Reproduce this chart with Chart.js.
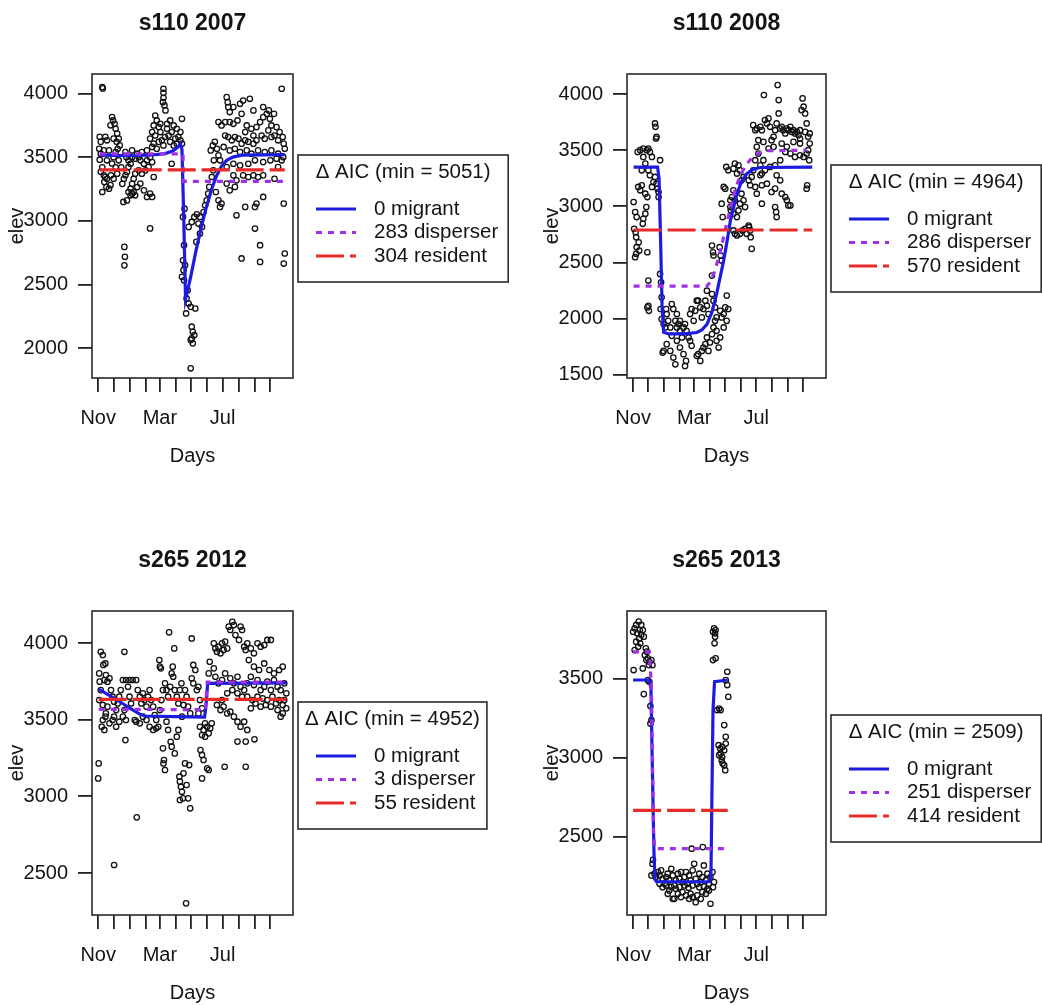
<!DOCTYPE html>
<html>
<head>
<meta charset="utf-8">
<script src="https://cdn.jsdelivr.net/npm/chart.js@4.4.0/dist/chart.umd.min.js"></script>
<style>
  body { margin: 0; background: #fff; }
  #fig { position: relative; width: 1042px; height: 1005px; overflow: hidden; background: #fff; }
  #fig canvas { position: absolute; }
</style>
</head>
<body>
<div id="fig">
  <canvas id="p1" width="535" height="537" style="left:0;top:0"></canvas>
  <canvas id="p2" width="507" height="537" style="left:535px;top:0"></canvas>
  <canvas id="p3" width="535" height="468" style="left:0;top:537px"></canvas>
  <canvas id="p4" width="507" height="468" style="left:535px;top:537px"></canvas>
</div>
<script>
// x values are days since 1 Nov; ticks sit on the first of each month
const monthDays = [0, 30, 61, 92, 120, 151, 181, 212, 242, 273, 304, 334]
const monthLabels = ["Nov", "", "", "", "Mar", "", "", "", "Jul", "", "", ""]
const modelNames = ["migrant", "disperser", "resident"]

// ---- s110 2007 ----
const s110_2007_ticks = [2000, 2500, 3000, 3500, 4000]
const s110_2007_aic = [0, 283, 304]
const s110_2007_min = 5051
const s110_2007_obs = [
  [8,4050],[9,4040],
  [3,3660],[5,3620],[2,3565],[5,3527],[3,3480],[8,3420],[5,3385],[11,3357],[14,3345],[17,3330],[12,3305],[16,3265],[8,3226],[21,3252],[24,3280],[27,3815],[29,3788],[32,3762],[24,3750],[34,3723],[37,3685],[30,3645],[36,3620],[40,3645],[38,3565],[42,3592],[34,3540],[30,3500],[27,3450],[34,3420],[37,3370],[40,3475],[45,3420],[30,3330],[25,3357],[17,3475],[21,3553],[11,3553],[17,3632],[14,3660],
  [51,2795],[52,2717],[51,2650],
  [47,3290],[50,3330],[53,3357],[56,3383],[59,3422],[63,3448],[59,3475],[55,3500],[66,3500],[72,3488],[79,3500],[82,3475],[89,3448],[95,3475],[101,3500],[105,3461],[98,3422],[92,3396],[85,3370],[79,3396],[72,3370],[69,3330],[66,3290],[63,3252],[66,3213],[69,3226],[72,3200],[63,3200],[59,3226],[76,3265],[82,3292],[89,3239],[95,3187],[101,3213],[105,3187],[56,3160],[49,3148],[101,2940],[108,3344],
  [53,3540],[66,3553],[76,3527],[85,3540],[95,3553],
  [127,4037],[127,4005],[127,3966],[126,3932],[129,3906],[131,3867],
  [111,3827],[114,3788],[108,3749],[118,3736],[105,3697],[111,3670],[121,3697],[134,3762],[140,3788],[147,3749],[153,3723],[160,3697],[163,3801],[143,3697],[137,3670],[130,3658],[124,3632],[118,3620],[108,3606],[101,3645],[105,3580],[114,3566],[127,3592],[140,3620],[150,3645],[156,3658],[147,3592],[153,3606],[134,3723],[121,3762],[143,3448],[163,3606],[160,3632],
  [165,3030],[168,3095],[167,2808],[165,2690],[169,2651],[166,2612],[163,2560],[167,2533],[174,2455],[172,2390],[176,2350],[180,2324],[189,2311],[171,2272],[182,2168],[184,2128],[187,2102],[180,2063],[184,2037],[182,2076],[180,1841],
  [176,2952],[182,2991],[187,3030],[192,3051],[198,3030],[195,2978],[202,2952],[198,2900],[191,2834],[205,3069],[208,3122],[211,3161],[214,3213],[216,3266],[221,3344],[224,3396],[225,3475],[219,3553],[223,3592],[227,3620],[231,3566],[234,3514],[237,3475],[229,3226],[234,3161],[240,3135],[237,3109],
  [250,3971],[252,3932],[253,3893],[256,3854],[247,3775],[234,3775],[240,3749],[256,3775],[263,3762],[271,3788],[276,3919],[279,3840],[295,3958],[289,3749],[286,3697],[298,3723],[302,3670],[308,3736],[315,3775],[321,3814],[328,3840],[334,3801],[337,3749],[342,3840],[347,3736],[353,3697],[357,4037],[359,3658],[361,3606],[363,3566],[350,3632],[343,3670],[337,3658],[331,3710],[324,3645],[318,3670],[308,3632],[302,3606],[292,3620],[286,3632],[279,3606],[273,3645],[266,3658],[260,3632],[253,3658],[247,3670],[244,3580],[256,3553],[266,3566],[276,3540],[289,3553],[298,3527],[311,3553],[324,3540],[337,3553],[350,3527],[360,3500],[357,3475],[347,3488],[335,3475],[321,3461],[305,3475],[292,3448],[276,3435],[263,3448],[250,3422],[263,3357],[269,3318],[266,3266],[282,3357],[292,3344],[302,3357],[311,3344],[321,3357],[343,3330],[350,3422],[250,3292],[256,3239],[269,3043],[279,2704],[286,3109],[308,3135],[305,3109],[321,3187],[305,2939],[315,2808],[315,2677],[361,3135],[363,2743],[361,2664],[302,3867],[321,3893],[332,3867],[263,3893],[282,3945]
]
const s110_2007_migrant = [[3,3515],[60,3512],[100,3515],[130,3528],[145,3548],[155,3578],[160,3605],[163,3560],[166,3100],[170,2385],[175,2470],[180,2560],[190,2760],[200,2940],[210,3100],[220,3240],[230,3350],[240,3430],[250,3475],[262,3500],[280,3515],[363,3520]]
const s110_2007_disperser = [[3,3525],[165,3525],[166,3310],[363,3310]]
const s110_2007_resident = [[3,3400],[363,3400]]

// ---- s110 2008 ----
const s110_2008_ticks = [1500, 2000, 2500, 3000, 3500, 4000]
const s110_2008_aic = [0, 286, 570]
const s110_2008_min = 4964
const s110_2008_obs = [
  [1,3039],[4,2950],[7,2905],[2,2800],[5,2770],[6,2726],[7,2637],[6,2578],[4,2548],[11,2681],[12,2607],[19,2845],[20,2890],[24,2935],[26,2994],[28,2592],[30,2340],[28,2101],[31,2071],[30,2116],[9,3485],[14,3500],[20,3515],[27,3500],[30,3515],[33,3485],[37,3440],[43,3738],[44,3708],[46,3619],[45,3604],[10,3173],[14,3143],[17,3188],[20,3440],[24,3381],[17,3321],[30,3321],[33,3277],[37,3173],[40,3217],[43,3262],[46,3202],[48,3158],[50,3128],[50,3083],[53,3411],[24,3113],[28,3083],
  [53,2399],[55,2324],[56,2191],[54,2087],
  [56,1997],[60,1953],[63,1923],[66,2042],[65,2087],[69,1982],[73,1923],[76,2131],[79,2087],[83,1982],[86,1923],[89,1953],[92,1893],[96,1834],[99,1923],[102,1953],[105,1893],[109,1834],[112,2042],[115,2087],[119,1982],[122,2071],[125,2161],[128,2161],[132,2101],[135,2012],[138,2087],[142,2161],[145,2116],[148,2042],[60,1714],[58,1699],[66,1774],[73,1714],[79,1655],[83,1595],[102,1580],[104,1625],[99,1685],[92,1744],[86,1804],[76,1848],[112,1804],[115,1759],[125,1670],[128,1685],[132,1625],[135,1714],[138,1744],[142,1774],[145,1834],[148,1714],[151,1789],[155,1863],[158,1923],[164,1893],[168,1744],[161,1982],[171,2071],[174,2012],[178,2042],[181,2101],[184,2206],[187,2087],[184,1982],[178,1923],[171,1834],[164,1804],[155,2220],[158,2161],[161,2101],[164,2012],[92,1982],[86,2042],[145,2250],
  [155,2384],[155,2652],[157,2592],[158,2563],[170,2637],[172,2563],[174,2518],[176,2905],[174,3024],[178,3173],[181,3158],[183,3351],[187,3321],[191,2994],[194,3083],[197,3143],[200,3054],[192,2964],[197,2935],[204,2905],[207,2964],[210,3024],[213,3113],[217,3054],[220,2994],[213,3232],[217,3262],[204,3292],[200,3381],[207,3366],[210,3321],[197,3336],
  [197,2786],[200,2756],[204,2741],[210,2756],[215,2786],[220,2800],[223,2756],[227,2830],[230,2786],[231,2726],[233,2622],[228,2815],[191,3054],
  [227,3232],[230,3188],[233,3262],[236,3321],[240,3411],[243,3530],[246,3470],[250,3366],[253,3292],[256,3411],[236,3723],[240,3678],[243,3693],[250,3708],[253,3678],[257,3991],[259,3768],[263,3738],[266,3783],[269,3708],[272,3589],[276,3619],[279,3678],[282,3738],[284,4080],[286,3946],[286,3827],[289,3693],[292,3708],[295,3678],[299,3649],[302,3693],[305,3678],[309,3708],[312,3663],[315,3678],[318,3649],[322,3663],[325,3634],[328,3678],[331,3857],[333,3961],[335,3887],[338,3827],[341,3738],[344,3619],[347,3559],[344,3500],[341,3470],[335,3440],[328,3455],[318,3440],[309,3470],[299,3485],[289,3411],[279,3366],[269,3351],[259,3321],[250,3277],[240,3173],[243,3113],[253,3188],[263,3202],[272,3128],[279,3158],[282,3277],[289,3232],[292,3113],[299,3083],[302,3054],[305,3009],[309,3009],[279,2994],[281,2950],[282,2905],[253,3024],[341,3158],[342,3188],[346,3411],[328,3559],[315,3574],[302,3530],[292,3559],[276,3530],[266,3515],[256,3574],[246,3589],[328,3604],[338,3663],[347,3649]
]
const s110_2008_migrant = [[1,3350],[48,3350],[51,3250],[54,2700],[57,2100],[60,1880],[70,1865],[100,1866],[125,1878],[135,1900],[145,1950],[155,2060],[164,2220],[171,2370],[178,2520],[185,2700],[191,2870],[198,3000],[204,3110],[212,3210],[223,3290],[236,3330],[250,3346],[352,3350]]
const s110_2008_disperser = [[1,2290],[145,2290],[152,2330],[160,2420],[168,2540],[176,2690],[184,2850],[192,3000],[200,3140],[210,3270],[222,3370],[235,3440],[250,3480],[265,3495],[340,3500]]
const s110_2008_resident = [[1,2790],[352,2790]]

// ---- s265 2012 ----
const s265_2012_ticks = [2500, 3000, 3500, 4000]
const s265_2012_aic = [0, 3, 55]
const s265_2012_min = 4952
const s265_2012_obs = [
  [1,3215],[0,3117],[31,2552],[2,3802],[5,3943],[9,3922],[10,3857],[14,3867],[3,3748],[5,3693],[2,3628],[9,3596],[12,3759],[15,3791],[18,3748],[22,3770],[25,3693],[28,3650],[31,3617],[18,3585],[15,3541],[14,3520],[9,3498],[7,3454],[12,3433],[22,3476],[28,3498],[31,3520],[35,3563],[38,3606],[41,3650],[44,3693],[48,3759],[51,3943],[54,3759],[58,3715],[61,3650],[64,3606],[61,3759],[67,3759],[74,3759],[53,3367],[51,3563],[54,3498],[48,3520],[41,3487],[35,3454],[71,3498],[75,2863],
  [77,3693],[81,3650],[84,3606],[87,3672],[90,3628],[94,3585],[97,3650],[100,3693],[103,3628],[107,3585],[110,3530],[113,3498],[117,3454],[120,3563],[123,3628],[126,3693],[130,3737],[133,3693],[136,3650],[140,3715],[143,3802],[146,3780],[145,3846],[148,3965],[149,3693],[153,3650],[156,3606],[159,3693],[162,3737],[166,3596],[169,3693],[172,3650],[138,4070],[120,3846],[122,3835],[119,3889],[94,3498],[100,3454],[107,3433],[113,3444],[87,3520],[81,3476],[74,3487],[126,3313],[128,3237],[127,3215],[130,3172],[133,3487],[136,3433],[141,3356],[143,3324],[149,3280],[153,3389],[156,3433],[158,3128],[159,3096],[161,3063],[163,3030],[159,2976],[165,2987],[166,3150],[169,3215],[172,3074],[177,3204],[179,2922],[175,2987],[171,2302],[163,3520],
  [182,4030],[185,3857],[189,3824],[182,3770],[185,3737],[192,3693],[195,3715],[198,3628],[202,3574],[195,3541],[198,3454],[202,3400],[205,3433],[208,3476],[199,3302],[202,3270],[205,3237],[212,3183],[215,3172],[202,3117],[208,3389],[212,3454],[215,3411],[218,3444],[221,3476],[215,3802],[217,3878],[225,3835],[179,3541],[175,3585],
  [225,3998],[228,3965],[231,3943],[234,3976],[238,3933],[241,3998],[244,3955],[247,4009],[251,3965],[254,4107],[257,4085],[261,4139],[264,4117],[267,4052],[274,4020],[277,4107],[280,4085],[284,3976],[287,3955],[290,3998],[297,3965],[303,3933],[310,3998],[316,3976],[323,3987],[329,4020],[336,4020],[293,3889],[303,3846],[313,3824],[323,3867],[333,3824],[342,3802],[352,3824],[359,3846],
  [228,3780],[234,3737],[241,3759],[247,3802],[257,3770],[264,3737],[271,3780],[277,3715],[284,3693],[290,3737],[297,3780],[303,3726],[310,3759],[316,3693],[323,3715],[329,3748],[336,3693],[342,3759],[349,3715],[355,3693],[362,3737],[366,3672],[362,3628],[359,3596],[352,3628],[346,3606],[339,3650],[329,3628],[320,3639],[310,3650],[300,3628],[290,3650],[280,3650],[271,3672],[261,3693],[251,3672],[241,3628],[231,3596],[238,3563],[244,3585],[251,3541],[257,3552],[264,3520],[271,3487],[277,3454],[284,3487],[290,3433],[287,3357],[271,3357],[304,3372],[246,3193],[287,3193],[349,3563],[359,3541],[366,3574],[355,3520],[336,3585],[326,3596],[316,3585],[306,3606],[297,3574]
]
const s265_2012_migrant = [[1,3700],[20,3662],[40,3622],[60,3578],[80,3538],[90,3524],[150,3520],[207,3517],[210,3600],[213,3737],[366,3740]]
const s265_2012_disperser = [[1,3568],[209,3565],[212,3745],[366,3745]]
const s265_2012_resident = [[1,3633],[366,3633]]

// ---- s265 2013 ----
const s265_2013_ticks = [2500, 3000, 3500]
const s265_2013_aic = [0, 251, 414]
const s265_2013_min = 2509
const s265_2013_obs = [
  [11,3859],[6,3838],[16,3838],[3,3817],[13,3806],[19,3806],[0,3795],[8,3785],[16,3774],[21,3764],[12,3753],[6,3732],[14,3722],[10,3700],[3,3679],[25,3690],[27,3669],[23,3648],[29,3627],[32,3605],[36,3616],[31,3584],[38,3584],[26,3616],[1,3553],[19,3563],[21,3401],[34,3325],[36,3236],[34,3215],[29,3489],[32,3479],
  [39,2354],[38,2329],[36,2255],[42,2266],[45,2245],[49,2276],[52,2255],[55,2287],[58,2234],[62,2202],[65,2245],[68,2266],[71,2224],[75,2297],[78,2255],[81,2192],[84,2224],[88,2266],[91,2234],[94,2276],[97,2213],[101,2245],[104,2276],[107,2202],[110,2255],[113,2224],[117,2287],[120,2329],[123,2234],[126,2202],[130,2266],[133,2213],[136,2245],[139,2318],[143,2224],[146,2266],[149,2202],[152,2245],[156,2276],[159,2213],[157,2181],
  [68,2139],[71,2160],[78,2107],[81,2107],[88,2139],[94,2118],[97,2150],[104,2129],[110,2107],[113,2139],[117,2118],[123,2086],[126,2129],[133,2107],[136,2150],[143,2139],[146,2171],[152,2076],[52,2202],[58,2181],[65,2192],[75,2181],[84,2171],[91,2181],[101,2192],[109,2177],[117,2192],[130,2181],[139,2185],[149,2160],[115,2424],[137,2434],
  [159,3817],[162,3806],[161,3785],[157,3795],[160,3722],[161,3764],[162,3627],[157,3616],[185,3542],[182,3489],[185,3458],[187,3384],[169,3310],[172,3300],[165,3300],[179,3205],[182,3131],[168,3078],[171,3057],[175,3067],[179,3046],[172,3025],[175,3004],[169,3015],[174,2983],[179,2951],[181,2920],[176,2962],[182,3088]
]
const s265_2013_migrant = [[0,3490],[32,3490],[35,3440],[38,2900],[41,2400],[43,2230],[46,2215],[150,2215],[153,2260],[155,2800],[157,3300],[160,3480],[186,3490]]
const s265_2013_disperser = [[0,3668],[32,3668],[36,3450],[40,2520],[43,2425],[186,2425]]
const s265_2013_resident = [[0,2666],[186,2666]]

const FONT = "'Liberation Sans', Arial, Helvetica, sans-serif"
const INK = "#141414"
const lineStyles = {
  migrant: { color: "#1c1ce0", dash: [] },
  disperser: { color: "#a030e8", dash: [6, 6] },
  resident: { color: "#e62b2b", dash: [28, 6] },
}

// plot frame and panel heading
const panelFrame = {
  id: "panelFrame",
  afterDatasetsDraw(chart, args, opts) {
    const { ctx, chartArea: a } = chart
    ctx.save()
    ctx.strokeStyle = "#2a2a2a"
    ctx.lineWidth = 1.6
    ctx.strokeRect(a.left, a.top, a.right - a.left, a.bottom - a.top)
    ctx.fillStyle = INK
    ctx.font = "bold 23px " + FONT
    ctx.textAlign = "center"
    ctx.textBaseline = "middle"
    ctx.fillText(opts.title, (a.left + a.right) / 2, a.top - 50)
    ctx.restore()
  },
}

// delta-AIC legend box to the right of the plot
const aicLegend = {
  id: "aicLegend",
  afterDraw(chart, args, opts) {
    const { ctx, chartArea: a } = chart
    const x0 = a.right + 5
    const y0 = opts.top
    ctx.save()
    ctx.font = "20.5px " + FONT
    const title = "\u0394 AIC (min = " + opts.minAIC + ")"
    const labels = opts.aic.map((v, i) => v + " " + modelNames[i])
    const textW = Math.max(...labels.map((l) => ctx.measureText(l).width))
    const w = Math.max(ctx.measureText(title).width + 14, 76 + textW + 10)
    const h = 127
    ctx.fillStyle = "#fff"
    ctx.fillRect(x0, y0, w, h)
    ctx.strokeStyle = "#2a2a2a"
    ctx.lineWidth = 1.6
    ctx.strokeRect(x0, y0, w, h)
    ctx.fillStyle = INK
    ctx.textBaseline = "middle"
    ctx.textAlign = "center"
    ctx.fillText(title, x0 + w / 2, y0 + 17)
    ctx.textAlign = "left"
    labels.forEach((l, i) => {
      const st = lineStyles[modelNames[i]]
      const yy = y0 + 54 + i * 23.5
      ctx.strokeStyle = st.color
      ctx.lineWidth = 3
      ctx.setLineDash(st.dash)
      ctx.beginPath()
      ctx.moveTo(x0 + 18, yy)
      ctx.lineTo(x0 + 58, yy)
      ctx.stroke()
      ctx.setLineDash([])
      ctx.fillText(l, x0 + 76, yy)
    })
    ctx.restore()
  },
}

function modelSet(name, data) {
  return {
    label: name,
    data: data,
    showLine: true,
    borderColor: lineStyles[name].color,
    borderDash: lineStyles[name].dash,
    borderWidth: 3.2,
    pointRadius: 0,
    tension: 0,
    fill: false,
  }
}

function makePanel(id, p) {
  const canvas = document.getElementById(id)
  const tickFont = { family: FONT, size: 20 }
  return new Chart(canvas, {
    type: "scatter",
    data: {
      datasets: [
        modelSet("resident", p.resident),
        modelSet("disperser", p.disperser),
        modelSet("migrant", p.migrant),
        {
          label: "obs",
          data: p.obs,
          showLine: false,
          pointRadius: 2.7,
          pointBorderWidth: 1.3,
          pointBorderColor: "#111",
          pointBackgroundColor: "rgba(0,0,0,0)",
        },
      ],
    },
    options: {
      responsive: false,
      animation: false,
      events: [],
      layout: { padding: { left: 0, top: 74, right: p.padRight, bottom: canvas.height - 378 - 90 } },
      scales: {
        x: {
          type: "linear",
          min: -12,
          max: 379,
          afterBuildTicks: (s) => { s.ticks = monthDays.map((v) => ({ value: v })) },
          afterFit: (s) => { s.height = 90 },
          ticks: {
            autoSkip: false,
            maxRotation: 0,
            padding: 14,
            color: INK,
            font: tickFont,
            callback: (v, i) => monthLabels[i],
          },
          grid: { drawOnChartArea: false, drawTicks: true, tickLength: 14, color: "#222", lineWidth: 1.8 },
          border: { display: false },
          title: { display: true, text: "Days", color: INK, font: tickFont, padding: { top: 0, bottom: 0 } },
        },
        y: {
          type: "linear",
          min: p.ymin,
          max: p.ymax,
          afterBuildTicks: (s) => { s.ticks = p.ticks.map((v) => ({ value: v })) },
          afterFit: (s) => { s.width = 92 },
          ticks: {
            padding: 10,
            color: INK,
            font: tickFont,
            callback: (v) => String(v),
          },
          grid: { drawOnChartArea: false, drawTicks: true, tickLength: 14, color: "#222", lineWidth: 1.8 },
          border: { display: false },
          title: { display: true, text: "elev", color: INK, font: tickFont, padding: { top: 5, bottom: 0 } },
        },
      },
      plugins: {
        legend: { display: false },
        tooltip: { enabled: false },
        panelFrame: { title: p.title },
        aicLegend: { top: p.legendTop, minAIC: p.minAIC, aic: p.aic },
      },
    },
    plugins: [panelFrame, aicLegend],
  })
}

makePanel("p1", {
  title: "s110 2007", obs: s110_2007_obs, migrant: s110_2007_migrant, disperser: s110_2007_disperser, resident: s110_2007_resident,
  ticks: s110_2007_ticks, ymin: 1765, ymax: 4153, aic: s110_2007_aic, minAIC: s110_2007_min, legendTop: 155, padRight: 242,
})
makePanel("p2", {
  title: "s110 2008", obs: s110_2008_obs, migrant: s110_2008_migrant, disperser: s110_2008_disperser, resident: s110_2008_resident,
  ticks: s110_2008_ticks, ymin: 1473, ymax: 4178, aic: s110_2008_aic, minAIC: s110_2008_min, legendTop: 165, padRight: 216,
})
makePanel("p3", {
  title: "s265 2012", obs: s265_2012_obs, migrant: s265_2012_migrant, disperser: s265_2012_disperser, resident: s265_2012_resident,
  ticks: s265_2012_ticks, ymin: 2226, ymax: 4209, aic: s265_2012_aic, minAIC: s265_2012_min, legendTop: 165, padRight: 242,
})
makePanel("p4", {
  title: "s265 2013", obs: s265_2013_obs, migrant: s265_2013_migrant, disperser: s265_2013_disperser, resident: s265_2013_resident,
  ticks: s265_2013_ticks, ymin: 2005, ymax: 3926, aic: s265_2013_aic, minAIC: s265_2013_min, legendTop: 178, padRight: 216,
})
</script>
</body>
</html>
